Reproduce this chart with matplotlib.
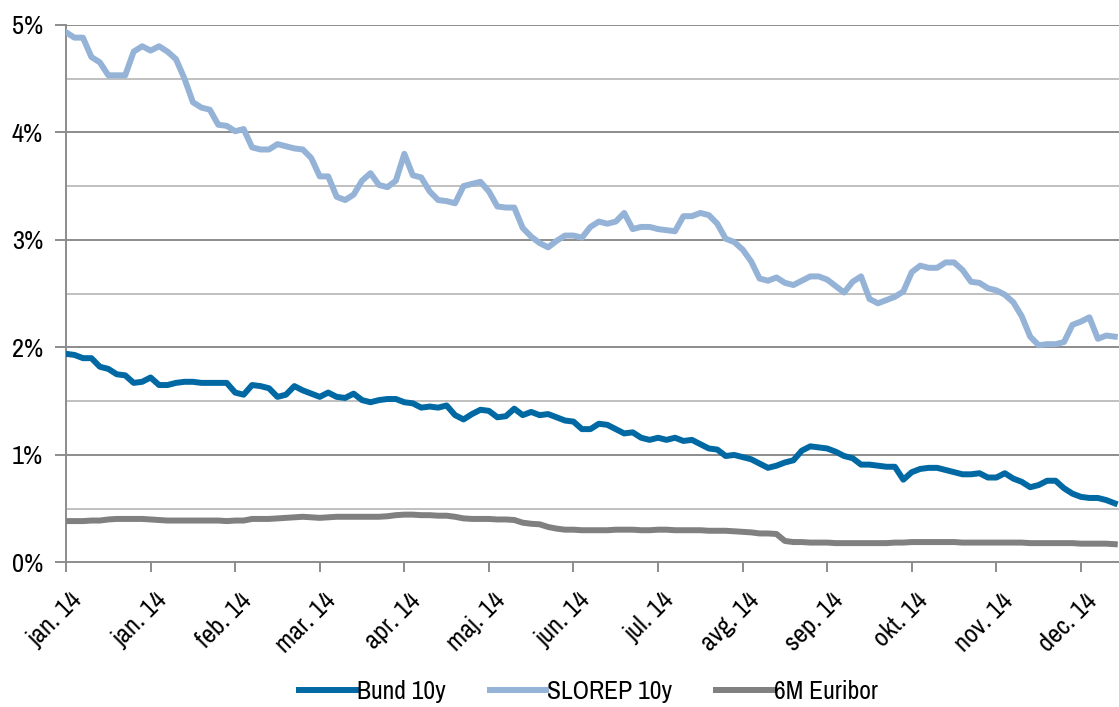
import numpy as np
import matplotlib
matplotlib.use("Agg")
import matplotlib.pyplot as plt
import matplotlib.transforms as mtransforms
from matplotlib.ticker import FixedLocator, FuncFormatter

# data, % (about every half week)
bund_10y = [1.94, 1.93, 1.90, 1.90, 1.82, 1.80, 1.75, 1.74, 1.67, 1.68,
            1.72, 1.65, 1.65, 1.67, 1.68, 1.68, 1.67, 1.67, 1.67, 1.67,
            1.58, 1.56, 1.65, 1.64, 1.62, 1.54, 1.56, 1.64, 1.60, 1.57,
            1.54, 1.58, 1.54, 1.53, 1.57, 1.51, 1.49, 1.51, 1.52, 1.52,
            1.49, 1.48, 1.44, 1.45, 1.44, 1.46, 1.37, 1.33, 1.38, 1.42,
            1.41, 1.35, 1.36, 1.43, 1.37, 1.40, 1.37, 1.38, 1.35, 1.32,
            1.31, 1.24, 1.24, 1.29, 1.28, 1.24, 1.20, 1.21, 1.16, 1.14,
            1.16, 1.14, 1.16, 1.13, 1.14, 1.10, 1.06, 1.05, 0.99, 1.00,
            0.98, 0.96, 0.92, 0.88, 0.90, 0.93, 0.95, 1.04, 1.08, 1.07,
            1.06, 1.03, 0.99, 0.97, 0.91, 0.91, 0.90, 0.89, 0.89, 0.77,
            0.84, 0.87, 0.88, 0.88, 0.86, 0.84, 0.82, 0.82, 0.83, 0.79,
            0.79, 0.83, 0.78, 0.75, 0.70, 0.72, 0.76, 0.76, 0.69, 0.64,
            0.61, 0.60, 0.60, 0.58, 0.55]

slorep_10y = [4.93, 4.88, 4.88, 4.70, 4.65, 4.53, 4.53, 4.53, 4.75, 4.80,
              4.76, 4.80, 4.75, 4.68, 4.50, 4.28, 4.23, 4.21, 4.07, 4.06,
              4.01, 4.03, 3.86, 3.84, 3.84, 3.89, 3.87, 3.85, 3.84, 3.76,
              3.59, 3.59, 3.40, 3.37, 3.42, 3.55, 3.62, 3.51, 3.49, 3.55,
              3.80, 3.60, 3.58, 3.45, 3.37, 3.36, 3.34, 3.50, 3.52, 3.54,
              3.45, 3.31, 3.30, 3.30, 3.11, 3.03, 2.97, 2.93, 2.99, 3.04,
              3.04, 3.02, 3.12, 3.17, 3.15, 3.17, 3.25, 3.10, 3.12, 3.12,
              3.10, 3.09, 3.08, 3.22, 3.22, 3.25, 3.23, 3.15, 3.01, 2.98,
              2.91, 2.80, 2.64, 2.62, 2.65, 2.60, 2.58, 2.62, 2.66, 2.66,
              2.63, 2.57, 2.51, 2.61, 2.66, 2.45, 2.41, 2.44, 2.47, 2.52,
              2.70, 2.76, 2.74, 2.74, 2.79, 2.79, 2.72, 2.61, 2.60, 2.55,
              2.53, 2.49, 2.42, 2.29, 2.10, 2.02, 2.03, 2.03, 2.05, 2.21,
              2.24, 2.28, 2.08, 2.11, 2.10]

euribor_6m = [0.385, 0.385, 0.385, 0.39, 0.39, 0.40, 0.405, 0.405, 0.405, 0.405,
              0.40, 0.395, 0.39, 0.39, 0.39, 0.39, 0.39, 0.39, 0.39, 0.385,
              0.39, 0.39, 0.405, 0.405, 0.405, 0.41, 0.415, 0.42, 0.425, 0.42,
              0.415, 0.42, 0.425, 0.425, 0.425, 0.425, 0.425, 0.425, 0.43, 0.44,
              0.445, 0.445, 0.44, 0.44, 0.435, 0.435, 0.425, 0.41, 0.405, 0.405,
              0.405, 0.40, 0.40, 0.395, 0.37, 0.36, 0.355, 0.33, 0.315, 0.305,
              0.305, 0.30, 0.30, 0.30, 0.30, 0.305, 0.305, 0.305, 0.30, 0.30,
              0.305, 0.305, 0.30, 0.30, 0.30, 0.30, 0.295, 0.295, 0.295, 0.29,
              0.285, 0.28, 0.27, 0.27, 0.265, 0.20, 0.19, 0.19, 0.185, 0.185,
              0.185, 0.18, 0.18, 0.18, 0.18, 0.18, 0.18, 0.18, 0.185, 0.185,
              0.19, 0.19, 0.19, 0.19, 0.19, 0.19, 0.185, 0.185, 0.185, 0.185,
              0.185, 0.185, 0.185, 0.185, 0.18, 0.18, 0.18, 0.18, 0.18, 0.18,
              0.175, 0.175, 0.175, 0.175, 0.17]

tick_labels = ['jan. 14', 'jan. 14', 'feb. 14', 'mar. 14', 'apr. 14', 'maj. 14',
               'jun. 14', 'jul. 14', 'avg. 14', 'sep. 14', 'okt. 14', 'nov. 14',
               'dec. 14']
series_names = ['Bund 10y', 'SLOREP 10y', '6M Euribor']

# Arial Narrow look-alike
plt.rcParams['font.family'] = ['Archivo Narrow', 'Liberation Sans', 'DejaVu Sans']

fig = plt.figure(figsize=(11.19, 7.07), dpi=100)
ax = fig.add_axes([0.059, 0.2044, 0.941, 0.7606])

x = np.arange(len(bund_10y))
lw = 4.3
l1, = ax.plot(x, bund_10y, color='#0069a3', lw=lw, label=series_names[0], zorder=4)
l2, = ax.plot(x, slorep_10y, color='#95b3d7', lw=lw, label=series_names[1], zorder=3)
l3, = ax.plot(x, euribor_6m, color='#808080', lw=lw, label=series_names[2], zorder=3)

ax.set_xlim(0, 124.5)
ax.set_ylim(0, 5)

# gridlines: darker at whole percents, lighter at halves
for v in np.arange(0.5, 5.01, 0.5):
    if abs(v - round(v)) < 1e-6:
        ax.axhline(v, color='#8c8c8c', lw=1.4, zorder=1)
    else:
        ax.axhline(v, color='#c0c0c0', lw=1.4, zorder=1)

ax.yaxis.set_major_locator(FixedLocator([0, 1, 2, 3, 4, 5]))
ax.yaxis.set_major_formatter(FuncFormatter(lambda v, p: '%d%%' % v))
ax.set_xticks(np.arange(0, 121, 10))
ax.tick_params(axis='y', length=8, width=1.4, color='#8c8c8c', labelsize=19, pad=8.5)
ax.tick_params(axis='x', length=7, width=1.4, color='#8c8c8c', labelsize=19, pad=5)
ax.set_xticklabels(tick_labels, rotation=45, ha='right', va='top', rotation_mode='anchor')

# push the rotated labels right and down, like excel does
offset = mtransforms.ScaledTranslation(3 / 72., -7 / 72., fig.dpi_scale_trans)
for lab in ax.get_xticklabels():
    lab.set_transform(lab.get_transform() + offset)

for s in ['top', 'right']:
    ax.spines[s].set_visible(False)
ax.spines['left'].set_color('#8c8c8c')
ax.spines['left'].set_linewidth(1.4)
ax.spines['bottom'].set_color('#8c8c8c')
ax.spines['bottom'].set_linewidth(1.4)

fig.legend(handles=[l1, l2, l3], loc='center', bbox_to_anchor=(0.526, 0.022), ncol=3,
           frameon=False, fontsize=18.5, handlelength=2.2, handletextpad=0.05,
           columnspacing=1.7)

fig.savefig('out.png', dpi=100)
